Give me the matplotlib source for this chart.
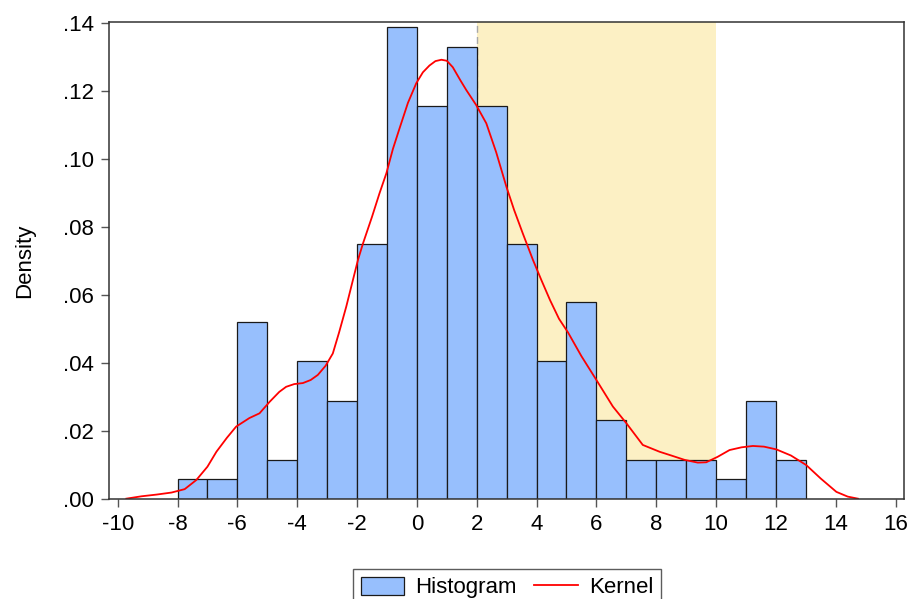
import numpy as np
import matplotlib
matplotlib.use("Agg")
import matplotlib.pyplot as plt
from matplotlib.patches import Patch
from matplotlib.lines import Line2D

plt.rcParams['font.family'] = ['Liberation Sans', 'DejaVu Sans']
plt.rcParams['axes.unicode_minus'] = False

# histogram bins (width 1) and densities
bin_left = [-8, -7, -6, -5, -4, -3, -2, -1, 0, 1, 2, 3, 4, 5, 6, 7, 8, 9, 10, 11, 12]
density = [0.0058, 0.0058, 0.0522, 0.0116, 0.0405, 0.0289, 0.0751, 0.1387,
           0.1156, 0.1329, 0.1156, 0.0751, 0.0405, 0.0578, 0.0231, 0.0116,
           0.0116, 0.0116, 0.0058, 0.0289, 0.0116]

# kernel density curve, read point by point
kx = [-9.71, -9.2, -8.7, -8.2, -7.76, -7.37, -7.0, -6.70, -6.35, -6.04, -5.6, -5.26,
      -4.92, -4.6, -4.37, -4.1, -3.81, -3.55, -3.31, -3.05, -2.81, -2.6, -2.36, -1.97,
      -1.80, -1.5, -1.25, -1.02, -0.80, -0.58, -0.30, -0.02, 0.2, 0.42, 0.62, 0.82,
      1.0, 1.2, 1.45, 1.65, 1.98, 2.32, 2.65, 2.99, 3.25, 3.54, 3.88, 4.16, 4.45, 4.75,
      5.05, 5.5, 6.00, 6.55, 7.0, 7.55, 8.11, 8.5, 8.95, 9.39, 9.67, 10.05, 10.45, 10.85,
      11.23, 11.6, 12.01, 12.5, 13.01, 13.5, 14.02, 14.4, 14.74]
ky = [0.0001, 0.0008, 0.0013, 0.0019, 0.0029, 0.0056, 0.0095, 0.0139, 0.0180, 0.0213,
      0.0238, 0.0252, 0.0286, 0.0315, 0.0330, 0.0338, 0.0341, 0.0350, 0.0365, 0.0392,
      0.0428, 0.0490, 0.0566, 0.0703, 0.0752, 0.0830, 0.0899, 0.0958, 0.1030, 0.1090,
      0.1165, 0.1223, 0.1255, 0.1275, 0.1288, 0.1292, 0.1289, 0.1270, 0.1232, 0.1203,
      0.1159, 0.1105, 0.1020, 0.0919, 0.0850, 0.0781, 0.0703, 0.0644, 0.0585, 0.0530,
      0.0490, 0.0420, 0.0350, 0.0272, 0.0223, 0.0159, 0.0139, 0.0128, 0.0115, 0.0107,
      0.0108, 0.0124, 0.0144, 0.0152, 0.0156, 0.0154, 0.0146, 0.0128, 0.0100, 0.0060,
      0.0021, 0.0007, 0.0001]

shade_from, shade_to = 2, 10
xticks = list(range(-10, 17, 2))
yticks = [0, 0.02, 0.04, 0.06, 0.08, 0.10, 0.12, 0.14]
ylabels = ['.00', '.02', '.04', '.06', '.08', '.10', '.12', '.14']

bar_col = '#97BFFD'
fig = plt.figure(figsize=(9.10, 5.99), dpi=100)
ax = fig.add_axes([109/910, 100/599, (904-109)/910, (499-22)/599])

ax.axvspan(shade_from, shade_to, color='#FCF0C4', lw=0, zorder=0)
ax.axvline(shade_from, color='#A8A8A8', ls=(0, (5, 3)), lw=1, zorder=0.5)
ax.bar(bin_left, density, width=1, align='edge', color=bar_col,
       edgecolor='#1A1A1A', linewidth=0.9, zorder=1)
ax.plot(kx, ky, color='#FF0000', lw=1.3, zorder=2)

ax.set_xlim(-10.29, 16.28)
ax.set_ylim(0, 0.1403)
ax.set_xticks(xticks)
ax.set_xticklabels([str(t) for t in xticks])
ax.set_yticks(yticks)
ax.set_yticklabels(ylabels)
ax.tick_params(axis='both', direction='out', length=6, width=1, color='#555555',
               labelsize=16, labelcolor='black')
ax.tick_params(axis='x', pad=5)
ax.tick_params(axis='y', pad=5)
for s in ax.spines.values():
    s.set_linewidth(1.1)
    s.set_color('#333333')
ax.set_ylabel('Density', fontsize=16, labelpad=20)

handles = [Patch(facecolor=bar_col, edgecolor='#1A1A1A', linewidth=0.9),
           Line2D([0], [0], color='#FF0000', lw=1.3)]
leg = fig.legend(handles, ['Histogram', 'Kernel'], loc='upper center',
                 bbox_to_anchor=(507/910, 1 - 569/599), ncol=2, fontsize=16,
                 frameon=True, fancybox=False, borderpad=0.35, borderaxespad=0,
                 handlelength=1.95, handleheight=0.85, handletextpad=0.5,
                 columnspacing=0.8)
leg.get_frame().set_edgecolor('#333333')
leg.get_frame().set_linewidth(1.0)

fig.savefig('out.png', dpi=100)
